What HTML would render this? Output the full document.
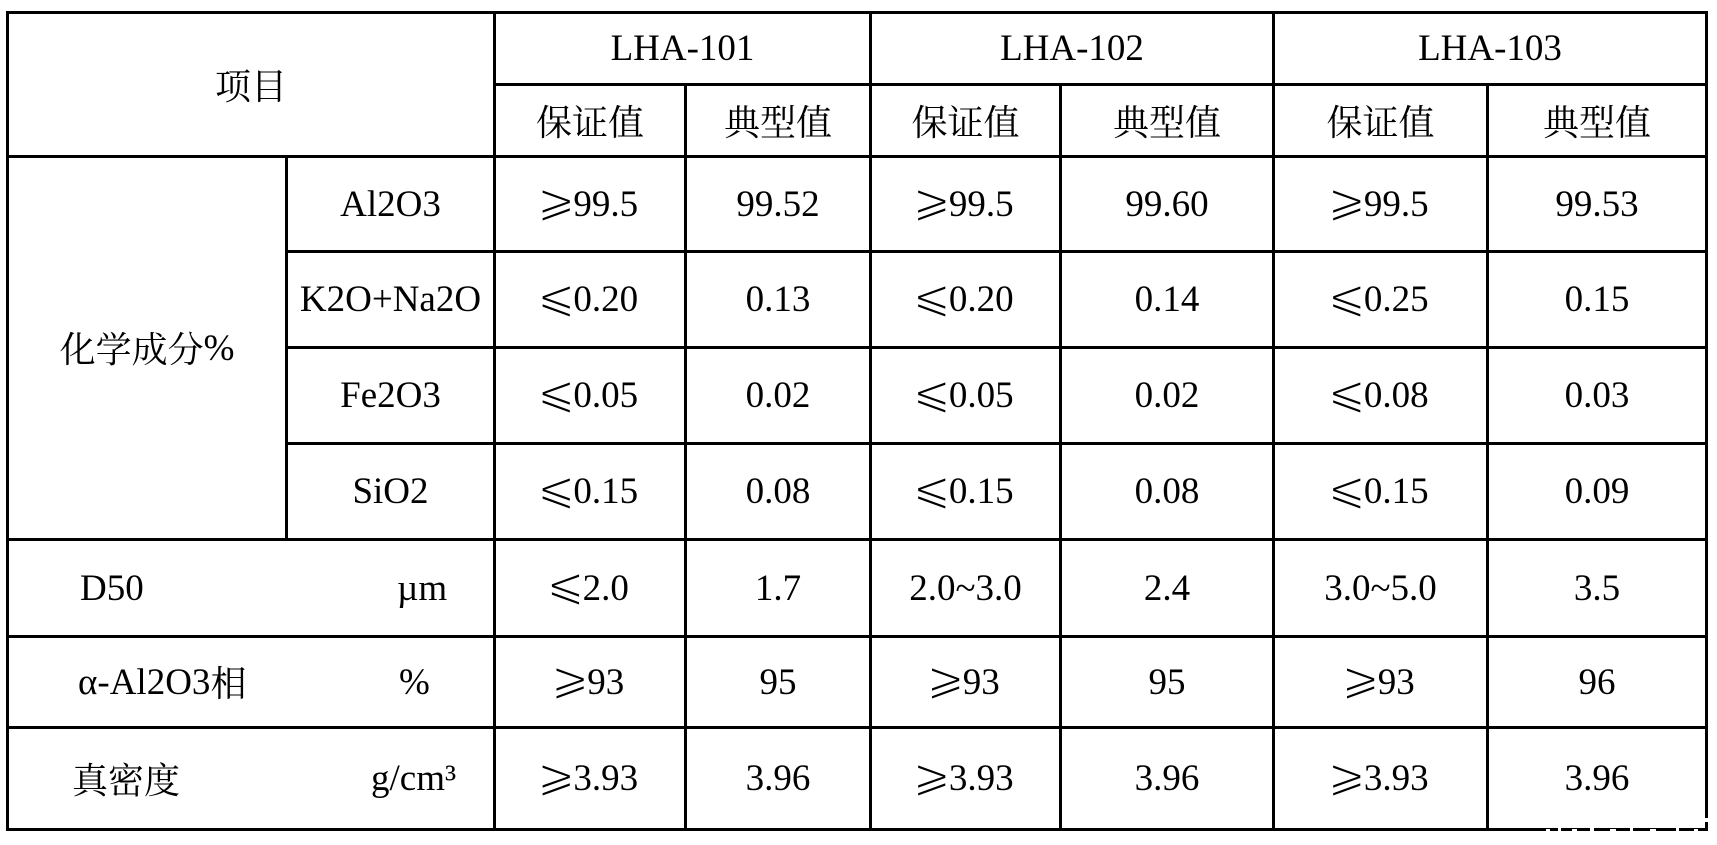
<!DOCTYPE html>
<html>
<head>
<meta charset="utf-8">
<style>
html,body{margin:0;padding:0;background:#fff;}
body{width:1717px;height:845px;position:relative;overflow:hidden;}
.h{position:absolute;background:#000;height:3px;}
.v{position:absolute;background:#000;width:3px;}
.c{position:absolute;display:flex;align-items:center;justify-content:center;white-space:nowrap;
   font-family:"Liberation Serif","Noto Serif CJK SC",serif;font-size:37px;line-height:1;color:#000;}
.l{justify-content:flex-start;}
.z{font-family:"Noto Serif CJK SC","Liberation Serif",serif;font-size:36px;}
.g{font-family:"DejaVu Sans","Liberation Serif",sans-serif;font-size:46px;line-height:0;margin-left:-5px;margin-right:-2px;
   position:relative;top:-4px;-webkit-text-stroke:1.6px #fff;paint-order:normal;}
.w{position:absolute;background:#fff;}
</style>
</head>
<body>
<!-- horizontal lines -->
<div class="h" style="left:6px;top:11px;width:1702px;"></div>
<div class="h" style="left:493px;top:83px;width:1215px;"></div>
<div class="h" style="left:6px;top:155px;width:1702px;"></div>
<div class="h" style="left:285px;top:250px;width:1423px;"></div>
<div class="h" style="left:285px;top:346px;width:1423px;"></div>
<div class="h" style="left:285px;top:442px;width:1423px;"></div>
<div class="h" style="left:6px;top:538px;width:1702px;"></div>
<div class="h" style="left:6px;top:635px;width:1702px;"></div>
<div class="h" style="left:6px;top:726px;width:1702px;"></div>
<div class="h" style="left:6px;top:828px;width:1702px;"></div>
<!-- vertical lines -->
<div class="v" style="left:6px;top:11px;height:820px;"></div>
<div class="v" style="left:285px;top:155px;height:386px;"></div>
<div class="v" style="left:493px;top:11px;height:820px;"></div>
<div class="v" style="left:684px;top:83px;height:748px;"></div>
<div class="v" style="left:869px;top:11px;height:820px;"></div>
<div class="v" style="left:1059px;top:83px;height:748px;"></div>
<div class="v" style="left:1272px;top:11px;height:820px;"></div>
<div class="v" style="left:1486px;top:83px;height:748px;"></div>
<div class="v" style="left:1705px;top:11px;height:820px;"></div>
<!-- watermark gaps -->
<div class="w" style="left:1546px;top:829px;width:4px;height:2px;"></div>
<div class="w" style="left:1558px;top:828px;width:3px;height:3px;"></div>
<div class="w" style="left:1572px;top:829px;width:5px;height:2px;"></div>
<div class="w" style="left:1590px;top:828px;width:4px;height:3px;"></div>
<div class="w" style="left:1610px;top:829px;width:6px;height:2px;"></div>
<div class="w" style="left:1630px;top:828px;width:3px;height:3px;"></div>
<div class="w" style="left:1650px;top:829px;width:6px;height:2px;"></div>
<div class="w" style="left:1676px;top:828px;width:3px;height:3px;"></div>
<div class="w" style="left:1694px;top:829px;width:4px;height:2px;"></div>
<div class="w" style="left:1705px;top:818px;width:3px;height:4px;"></div>

<!-- header -->
<div class="c" style="left:8px;top:13px;width:486px;height:143px;"><span class="z">项目</span></div>
<div class="c" style="left:495px;top:13px;width:375px;height:71px;">LHA-101</div>
<div class="c" style="left:871px;top:13px;width:402px;height:71px;">LHA-102</div>
<div class="c" style="left:1274px;top:13px;width:432px;height:71px;">LHA-103</div>

<div class="c" style="left:495px;top:85px;width:190px;height:71px;"><span class="z">保证值</span></div>
<div class="c" style="left:686px;top:85px;width:184px;height:71px;"><span class="z">典型值</span></div>
<div class="c" style="left:871px;top:85px;width:189px;height:71px;"><span class="z">保证值</span></div>
<div class="c" style="left:1061px;top:85px;width:212px;height:71px;"><span class="z">典型值</span></div>
<div class="c" style="left:1274px;top:85px;width:213px;height:71px;"><span class="z">保证值</span></div>
<div class="c" style="left:1488px;top:85px;width:218px;height:71px;"><span class="z">典型值</span></div>

<!-- chemical composition -->
<div class="c" style="left:8px;top:157px;width:278px;height:382px;"><span class="z">化学成分</span>%</div>

<div class="c" style="left:287px;top:157px;width:207px;height:94px;">Al2O3</div>
<div class="c" style="left:287px;top:252px;width:207px;height:95px;">K2O+Na2O</div>
<div class="c" style="left:287px;top:348px;width:207px;height:95px;">Fe2O3</div>
<div class="c" style="left:287px;top:444px;width:207px;height:95px;">SiO2</div>

<!-- row Al2O3 -->
<div class="c" style="left:495px;top:157px;width:190px;height:94px;"><span class="g">⩾</span>99.5</div>
<div class="c" style="left:686px;top:157px;width:184px;height:94px;">99.52</div>
<div class="c" style="left:871px;top:157px;width:189px;height:94px;"><span class="g">⩾</span>99.5</div>
<div class="c" style="left:1061px;top:157px;width:212px;height:94px;">99.60</div>
<div class="c" style="left:1274px;top:157px;width:213px;height:94px;"><span class="g">⩾</span>99.5</div>
<div class="c" style="left:1488px;top:157px;width:218px;height:94px;">99.53</div>

<!-- row K2O+Na2O -->
<div class="c" style="left:495px;top:252px;width:190px;height:95px;"><span class="g">⩽</span>0.20</div>
<div class="c" style="left:686px;top:252px;width:184px;height:95px;">0.13</div>
<div class="c" style="left:871px;top:252px;width:189px;height:95px;"><span class="g">⩽</span>0.20</div>
<div class="c" style="left:1061px;top:252px;width:212px;height:95px;">0.14</div>
<div class="c" style="left:1274px;top:252px;width:213px;height:95px;"><span class="g">⩽</span>0.25</div>
<div class="c" style="left:1488px;top:252px;width:218px;height:95px;">0.15</div>

<!-- row Fe2O3 -->
<div class="c" style="left:495px;top:348px;width:190px;height:95px;"><span class="g">⩽</span>0.05</div>
<div class="c" style="left:686px;top:348px;width:184px;height:95px;">0.02</div>
<div class="c" style="left:871px;top:348px;width:189px;height:95px;"><span class="g">⩽</span>0.05</div>
<div class="c" style="left:1061px;top:348px;width:212px;height:95px;">0.02</div>
<div class="c" style="left:1274px;top:348px;width:213px;height:95px;"><span class="g">⩽</span>0.08</div>
<div class="c" style="left:1488px;top:348px;width:218px;height:95px;">0.03</div>

<!-- row SiO2 -->
<div class="c" style="left:495px;top:444px;width:190px;height:95px;"><span class="g">⩽</span>0.15</div>
<div class="c" style="left:686px;top:444px;width:184px;height:95px;">0.08</div>
<div class="c" style="left:871px;top:444px;width:189px;height:95px;"><span class="g">⩽</span>0.15</div>
<div class="c" style="left:1061px;top:444px;width:212px;height:95px;">0.08</div>
<div class="c" style="left:1274px;top:444px;width:213px;height:95px;"><span class="g">⩽</span>0.15</div>
<div class="c" style="left:1488px;top:444px;width:218px;height:95px;">0.09</div>

<!-- row D50 -->
<div class="c l" style="left:80px;top:540px;width:200px;height:96px;">D50</div>
<div class="c l" style="left:397px;top:540px;width:90px;height:96px;">µm</div>
<div class="c" style="left:495px;top:540px;width:190px;height:96px;"><span class="g">⩽</span>2.0</div>
<div class="c" style="left:686px;top:540px;width:184px;height:96px;">1.7</div>
<div class="c" style="left:871px;top:540px;width:189px;height:96px;">2.0~3.0</div>
<div class="c" style="left:1061px;top:540px;width:212px;height:96px;">2.4</div>
<div class="c" style="left:1274px;top:540px;width:213px;height:96px;">3.0~5.0</div>
<div class="c" style="left:1488px;top:540px;width:218px;height:96px;">3.5</div>

<!-- row alpha phase -->
<div class="c l" style="left:78px;top:637px;width:210px;height:90px;">α-Al2O3<span class="z">相</span></div>
<div class="c l" style="left:399px;top:637px;width:90px;height:90px;">%</div>
<div class="c" style="left:495px;top:637px;width:190px;height:90px;"><span class="g">⩾</span>93</div>
<div class="c" style="left:686px;top:637px;width:184px;height:90px;">95</div>
<div class="c" style="left:871px;top:637px;width:189px;height:90px;"><span class="g">⩾</span>93</div>
<div class="c" style="left:1061px;top:637px;width:212px;height:90px;">95</div>
<div class="c" style="left:1274px;top:637px;width:213px;height:90px;"><span class="g">⩾</span>93</div>
<div class="c" style="left:1488px;top:637px;width:218px;height:90px;">96</div>

<!-- row true density -->
<div class="c l" style="left:72px;top:728px;width:200px;height:101px;"><span class="z">真密度</span></div>
<div class="c l" style="left:371px;top:728px;width:110px;height:101px;">g/cm³</div>
<div class="c" style="left:495px;top:728px;width:190px;height:101px;"><span class="g">⩾</span>3.93</div>
<div class="c" style="left:686px;top:728px;width:184px;height:101px;">3.96</div>
<div class="c" style="left:871px;top:728px;width:189px;height:101px;"><span class="g">⩾</span>3.93</div>
<div class="c" style="left:1061px;top:728px;width:212px;height:101px;">3.96</div>
<div class="c" style="left:1274px;top:728px;width:213px;height:101px;"><span class="g">⩾</span>3.93</div>
<div class="c" style="left:1488px;top:728px;width:218px;height:101px;">3.96</div>
</body>
</html>
